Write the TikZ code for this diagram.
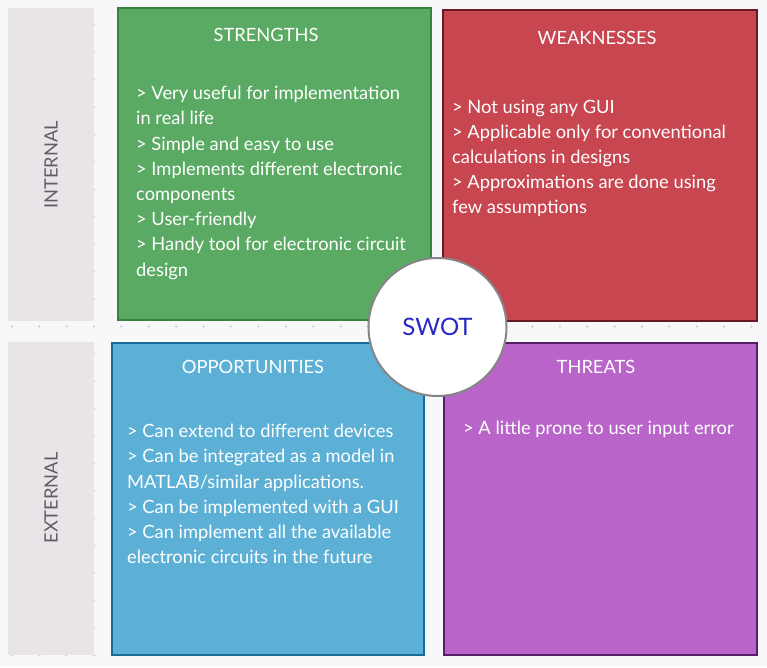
\documentclass[tikz,border=0pt]{standalone}
\usepackage{fontspec}
\setmainfont{Lato}
\begin{document}
\definecolor{pagebg}{RGB}{248,248,250}
\definecolor{dotgray}{RGB}{212,212,218}
\definecolor{sidebar}{RGB}{232,228,232}
\definecolor{sidetext}{RGB}{95,92,98}
\definecolor{sfill}{RGB}{90,170,100}
\definecolor{sline}{RGB}{55,130,62}
\definecolor{wfill}{RGB}{200,70,80}
\definecolor{wline}{RGB}{105,25,35}
\definecolor{ofill}{RGB}{92,176,214}
\definecolor{oline}{RGB}{22,108,150}
\definecolor{tfill}{RGB}{184,100,200}
\definecolor{tline}{RGB}{85,30,105}
\definecolor{swotblue}{RGB}{40,40,200}
\begin{tikzpicture}[x=1pt,y=-1pt,
  quad/.style={draw, line width=2pt},
  sidebox/.style={fill=sidebar, draw=none},
  sidelabel/.style={rotate=90, text=sidetext, font=\fontsize{18.3}{20}\selectfont},
  quadtitle/.style={text=white, font=\fontsize{18.3}{20}\selectfont},
  quadbody/.style={text=white, align=left, anchor=north west, inner sep=0pt,
    font=\fontsize{18.3}{25.2}\selectfont},
  hub/.style={circle, fill=white, draw=gray!95, line width=2pt, minimum size=138pt,
    text=swotblue, font=\fontsize{24}{28}\selectfont}]
\useasboundingbox (0,0) rectangle (767,667);
\fill[pagebg] (0,0) rectangle (767,667);
% faint dot grid
\foreach \i in {0,...,27} {
  \foreach \j in {0,...,25} {
    \fill[dotgray] ({11.8+27.4*\i},{-2.4+27.4*\j}) circle (1.4pt);
  }
}
% side bars
\fill[sidebox] (8,8) rectangle (94,321);
\fill[sidebox] (8,342) rectangle (94,655);
\node[sidelabel] (internal) at (51,165) {INTERNAL};
\node[sidelabel] (external) at (51,498) {EXTERNAL};
% quadrants
\draw[quad, fill=sfill, draw=sline] (118,8) rectangle (431,320);
\draw[quad, fill=wfill, draw=wline] (443,10) rectangle (757,321);
\draw[quad, fill=ofill, draw=oline] (112,343) rectangle (424,655);
\draw[quad, fill=tfill, draw=tline] (444,343) rectangle (757,655);
% titles
\node[quadtitle] (stitle) at (266,35) {STRENGTHS};
\node[quadtitle] (wtitle) at (597,38) {WEAKNESSES};
\node[quadtitle] (otitle) at (253,367) {OPPORTUNITIES};
\node[quadtitle] (ttitle) at (596,367) {THREATS};
% bodies
\node[quadbody] (sbody) at (136,86) {> Very useful for implementation\\in real life\\> Simple and easy to use\\> Implements different electronic\\components\\> User-friendly\\> Handy tool for electronic circuit\\design};
\node[quadbody] (wbody) at (452,99.5) {> Not using any GUI\\> Applicable only for conventional\\calculations in designs\\> Approximations are done using\\few assumptions};
\node[quadbody] (obody) at (127,424) {> Can extend to different devices\\> Can be integrated as a model in\\MATLAB/similar applications.\\> Can be implemented with a GUI\\> Can implement all the available\\electronic circuits in the future};
\node[quadbody] (tbody) at (463,421) {> A little prone to user input error};
% centre
\node[hub] (swot) at (437.5,327) {SWOT};
\end{tikzpicture}
\end{document}
